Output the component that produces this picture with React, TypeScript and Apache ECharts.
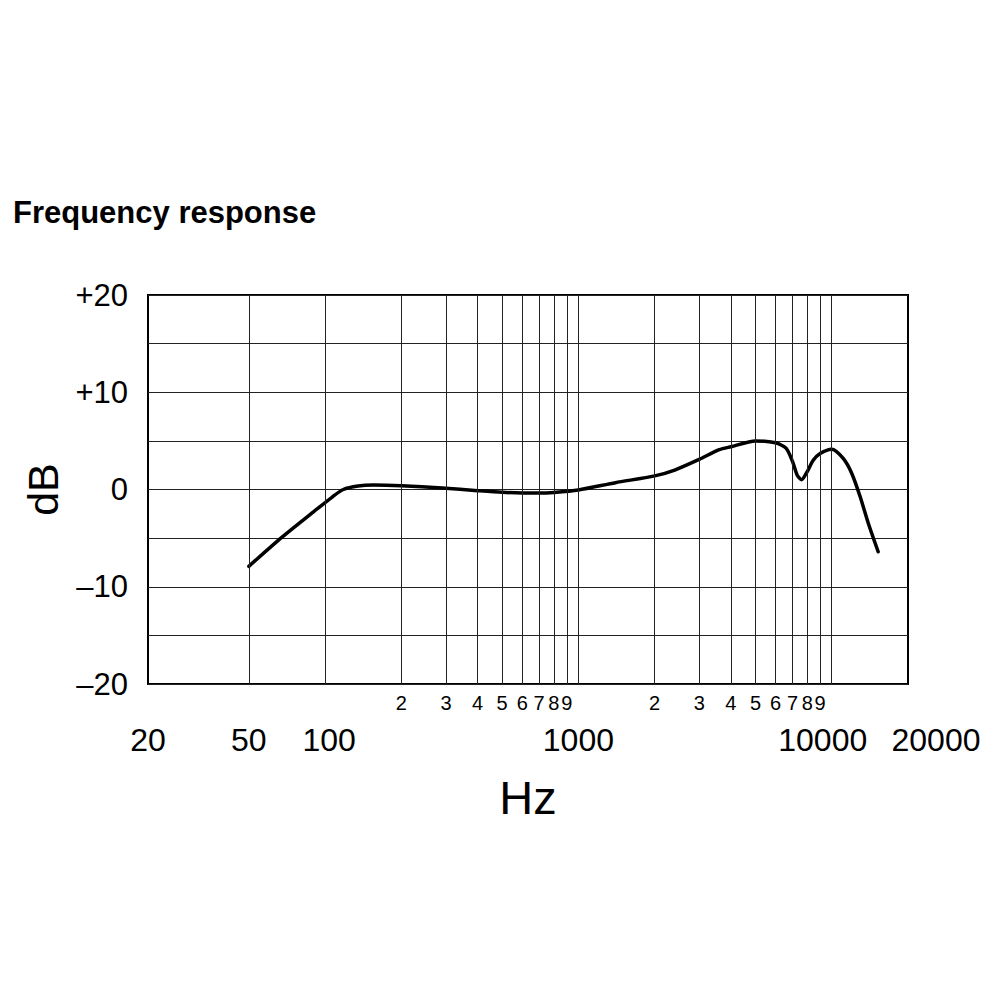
import React, { useEffect, useRef } from "react";
import * as echarts from "echarts";

// Frequency response curve (Hz, dB)
const curveFreqs = [50, 68, 90, 107, 118, 135, 155, 200, 290, 400, 500, 600, 700, 800, 1000, 1400, 2000, 2400, 3000, 3600, 4000, 5000, 6000, 6600, 7000, 7300, 7600, 7950, 8450, 9000, 10000, 11100, 12000, 12950, 13950, 15250];
const curveDb = [-7.9, -4.85, -2.3, -0.75, 0.0, 0.35, 0.45, 0.38, 0.15, -0.12, -0.29, -0.36, -0.36, -0.3, -0.05, 0.7, 1.4, 2.0, 3.1, 4.1, 4.4, 5.0, 4.8, 4.25, 2.9, 1.5, 1.0, 1.7, 3.0, 3.7, 4.15, 3.2, 1.65, -0.75, -3.5, -6.4];

// Vertical grid lines (Hz)
const gridFreqs = [50, 100, 200, 300, 400, 500, 600, 700, 800, 900, 1000, 2000, 3000, 4000, 5000, 6000, 7000, 8000, 9000, 10000];

// Small tick labels (upper row)
const minorTickFreqs = [200, 300, 400, 500, 600, 700, 800, 900, 2000, 3000, 4000, 5000, 6000, 7000, 8000, 9000];
const minorTickLabels = ["2", "3", "4", "5", "6", "7", "8", "9", "2", "3", "4", "5", "6", "7", "8", "9"];

// Major tick labels (lower row)
const majorTickFreqs = [20, 50, 100, 1000, 10000, 20000];
const majorTickLabels = ["20", "50", "100", "1000", "10000", "20000"];

// Y tick labels
const yTickValues = [20, 10, 0, -10, -20];
const yTickLabels = ["+20", "+10", "0", "\u201310", "\u201320"];

const FONT = "'Liberation Sans', Arial, sans-serif";

export default function App() {
  const ref = useRef<HTMLDivElement>(null);

  useEffect(() => {
    if (!ref.current) return;
    const chart = echarts.init(ref.current, null, { renderer: "svg" });

    const majorOffsets: Record<number, number> = { 100: 4, 10000: -9, 20000: 28 };

    const option: any = {
      animation: false,
      backgroundColor: "#ffffff",
      title: {
        text: "Frequency response",
        left: 13,
        top: 196,
        padding: 0,
        textStyle: {
          fontFamily: FONT,
          fontWeight: "bold",
          fontSize: 31,
          lineHeight: 32,
          color: "#000",
        },
      },
      grid: {
        left: 148,
        right: 92,
        top: 295,
        bottom: 316,
        show: true,
        borderColor: "#000",
        borderWidth: 2,
        backgroundColor: "transparent",
      },
      xAxis: {
        type: "log",
        logBase: 10,
        min: 20,
        max: 20000,
        name: "Hz",
        nameLocation: "middle",
        nameGap: 90,
        nameTextStyle: { fontFamily: FONT, fontSize: 47, color: "#000" },
        axisLine: { show: false },
        axisTick: { show: false },
        axisLabel: { show: false },
        splitLine: { show: false },
        minorTick: { show: false },
        minorSplitLine: { show: false },
      },
      yAxis: {
        type: "value",
        min: -20,
        max: 20,
        interval: 5,
        name: "dB",
        nameLocation: "middle",
        nameGap: 78,
        nameRotate: 90,
        nameTextStyle: { fontFamily: FONT, fontSize: 43, color: "#000" },
        axisLine: { show: false },
        axisTick: { show: false },
        axisLabel: {
          margin: 20,
          fontFamily: FONT,
          fontSize: 31,
          color: "#000",
          formatter: (v: number) => {
            const i = yTickValues.indexOf(v);
            return i >= 0 ? yTickLabels[i] : "";
          },
        },
        splitLine: { show: true, lineStyle: { color: "#222", width: 1 } },
      },
      series: [
        {
          name: "grid",
          type: "line",
          data: [],
          z: 1,
          silent: true,
          markLine: {
            silent: true,
            symbol: ["none", "none"],
            label: { show: false },
            lineStyle: { color: "#222", width: 1, type: "solid" },
            emphasis: { disabled: true },
            data: gridFreqs.map((f) => ({ xAxis: f })),
          },
        },
        {
          name: "minorTicks",
          type: "scatter",
          symbolSize: 1,
          itemStyle: { color: "rgba(0,0,0,0)", opacity: 1 },
          clip: false,
          silent: true,
          z: 2,
          data: minorTickFreqs.map((f, i) => ({ value: [f, -20], name: minorTickLabels[i] })),
          label: {
            show: true,
            position: "inside",
            offset: [0, 19],
            formatter: "{b}",
            fontFamily: FONT,
            fontSize: 20,
            color: "#000",
            opacity: 1,
          },
        },
        {
          name: "majorTicks",
          type: "scatter",
          symbolSize: 1,
          itemStyle: { color: "rgba(0,0,0,0)", opacity: 1 },
          clip: false,
          silent: true,
          z: 2,
          data: majorTickFreqs.map((f, i) => ({
            value: [f, -20],
            name: majorTickLabels[i],
            label: { offset: [majorOffsets[f] || 0, 56] },
          })),
          label: {
            show: true,
            position: "inside",
            offset: [0, 56],
            formatter: "{b}",
            fontFamily: FONT,
            fontSize: 32,
            color: "#000",
            opacity: 1,
          },
        },
        {
          name: "Frequency response",
          type: "line",
          z: 3,
          smooth: 0.25,
          showSymbol: false,
          symbol: "none",
          clip: false,
          lineStyle: { color: "#000", width: 3.5, cap: "round", join: "round" },
          data: curveFreqs.map((f, i) => [f, curveDb[i]]),
        },
      ],
    };

    chart.setOption(option);
    return () => chart.dispose();
  }, []);

  return (
    <div
      ref={ref}
      style={{ position: "absolute", left: 0, top: 0, width: 1000, height: 1000, background: "#fff" }}
    />
  );
}
